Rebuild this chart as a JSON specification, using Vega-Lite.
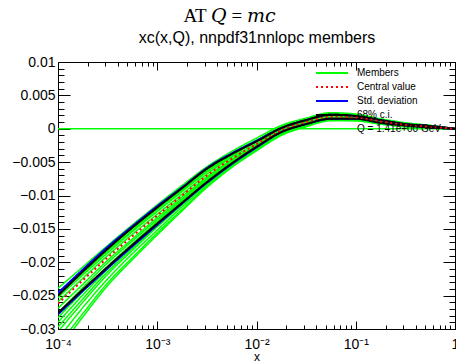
{
  "$schema": "https://vega.github.io/schema/vega-lite/v6.json",
  "width": 397,
  "height": 267,
  "autosize": {"type": "none"},
  "padding": {"left": 58, "top": 62, "right": 1, "bottom": 33},
  "background": "white",
  "title": {
    "text": "AT 𝑄 = 𝑚𝑐",
    "anchor": "middle",
    "frame": "group",
    "dx": -27,
    "font": "Liberation Serif, DejaVu Serif",
    "fontSize": 19,
    "fontWeight": "normal",
    "color": "black",
    "offset": 3
  },
  "config": {
    "font": "Liberation Sans",
    "view": {"stroke": "black", "strokeWidth": 1},
    "axis": {"domain": false, "grid": false, "tickColor": "black", "labelColor": "black", "titleColor": "black", "labelFont": "Liberation Sans", "labelFontSize": 14, "labelFlush": false, "labelOverlap": false, "labelBound": false},
    "legend": {"orient": "none", "legendX": 257, "legendY": 4, "padding": 0, "symbolType": "stroke", "symbolSize": 1024, "symbolStrokeWidth": 2, "clipHeight": 14, "rowPadding": 0, "labelFont": "Liberation Sans", "labelFontSize": 10, "labelColor": "black", "labelOffset": 8, "labelLimit": 200}
  },
  "data": {"values": [
    {"s":"Members","m":"1","x":0.0001,"y":-0.0239},{"s":"Members","m":"1","x":0.00017783,"y":-0.0207},{"s":"Members","m":"1","x":0.00031623,"y":-0.0175},{"s":"Members","m":"1","x":0.00056234,"y":-0.0144},{"s":"Members","m":"1","x":0.001,"y":-0.0114},{"s":"Members","m":"1","x":0.0017783,"y":-0.0085},{"s":"Members","m":"1","x":0.0031623,"y":-0.0057},{"s":"Members","m":"1","x":0.0056234,"y":-0.0034},{"s":"Members","m":"1","x":0.01,"y":-0.0014},{"s":"Members","m":"1","x":0.017783,"y":0.0005},{"s":"Members","m":"1","x":0.031623,"y":0.0016},{"s":"Members","m":"1","x":0.056234,"y":0.0024},{"s":"Members","m":"1","x":0.1,"y":0.0022},{"s":"Members","m":"1","x":0.17783,"y":0.0015},{"s":"Members","m":"1","x":0.31623,"y":0.0009},{"s":"Members","m":"1","x":0.56234,"y":0.0005},{"s":"Members","m":"1","x":1,"y":0},
    {"s":"Members","m":"2","x":0.0001,"y":-0.0246},{"s":"Members","m":"2","x":0.00017783,"y":-0.0213},{"s":"Members","m":"2","x":0.00031623,"y":-0.018},{"s":"Members","m":"2","x":0.00056234,"y":-0.0149},{"s":"Members","m":"2","x":0.001,"y":-0.0119},{"s":"Members","m":"2","x":0.0017783,"y":-0.0089},{"s":"Members","m":"2","x":0.0031623,"y":-0.0061},{"s":"Members","m":"2","x":0.0056234,"y":-0.0037},{"s":"Members","m":"2","x":0.01,"y":-0.0017},{"s":"Members","m":"2","x":0.017783,"y":0.0003},{"s":"Members","m":"2","x":0.031623,"y":0.0014},{"s":"Members","m":"2","x":0.056234,"y":0.0022},{"s":"Members","m":"2","x":0.1,"y":0.0021},{"s":"Members","m":"2","x":0.17783,"y":0.0014},{"s":"Members","m":"2","x":0.31623,"y":0.0008},{"s":"Members","m":"2","x":0.56234,"y":0.0004},{"s":"Members","m":"2","x":1,"y":0},
    {"s":"Members","m":"3","x":0.0001,"y":-0.0253},{"s":"Members","m":"3","x":0.00017783,"y":-0.0219},{"s":"Members","m":"3","x":0.00031623,"y":-0.0186},{"s":"Members","m":"3","x":0.00056234,"y":-0.0154},{"s":"Members","m":"3","x":0.001,"y":-0.0124},{"s":"Members","m":"3","x":0.0017783,"y":-0.0094},{"s":"Members","m":"3","x":0.0031623,"y":-0.0065},{"s":"Members","m":"3","x":0.0056234,"y":-0.0041},{"s":"Members","m":"3","x":0.01,"y":-0.0019},{"s":"Members","m":"3","x":0.017783,"y":-0.0002},{"s":"Members","m":"3","x":0.031623,"y":0.0006},{"s":"Members","m":"3","x":0.056234,"y":0.0015},{"s":"Members","m":"3","x":0.1,"y":0.0014},{"s":"Members","m":"3","x":0.17783,"y":0.0009},{"s":"Members","m":"3","x":0.31623,"y":0.0004},{"s":"Members","m":"3","x":0.56234,"y":0.0002},{"s":"Members","m":"3","x":1,"y":0},
    {"s":"Members","m":"4","x":0.0001,"y":-0.0259},{"s":"Members","m":"4","x":0.00017783,"y":-0.0224},{"s":"Members","m":"4","x":0.00031623,"y":-0.019},{"s":"Members","m":"4","x":0.00056234,"y":-0.0158},{"s":"Members","m":"4","x":0.001,"y":-0.0128},{"s":"Members","m":"4","x":0.0017783,"y":-0.0098},{"s":"Members","m":"4","x":0.0031623,"y":-0.0068},{"s":"Members","m":"4","x":0.0056234,"y":-0.0043},{"s":"Members","m":"4","x":0.01,"y":-0.0022},{"s":"Members","m":"4","x":0.017783,"y":-0.0001},{"s":"Members","m":"4","x":0.031623,"y":0.0011},{"s":"Members","m":"4","x":0.056234,"y":0.0019},{"s":"Members","m":"4","x":0.1,"y":0.0018},{"s":"Members","m":"4","x":0.17783,"y":0.0012},{"s":"Members","m":"4","x":0.31623,"y":0.0006},{"s":"Members","m":"4","x":0.56234,"y":0.0003},{"s":"Members","m":"4","x":1,"y":0},
    {"s":"Members","m":"5","x":0.0001,"y":-0.0269},{"s":"Members","m":"5","x":0.00017783,"y":-0.0233},{"s":"Members","m":"5","x":0.00031623,"y":-0.0197},{"s":"Members","m":"5","x":0.00056234,"y":-0.0165},{"s":"Members","m":"5","x":0.001,"y":-0.0133},{"s":"Members","m":"5","x":0.0017783,"y":-0.0102},{"s":"Members","m":"5","x":0.0031623,"y":-0.0072},{"s":"Members","m":"5","x":0.0056234,"y":-0.0046},{"s":"Members","m":"5","x":0.01,"y":-0.0024},{"s":"Members","m":"5","x":0.017783,"y":0},{"s":"Members","m":"5","x":0.031623,"y":0.0015},{"s":"Members","m":"5","x":0.056234,"y":0.0023},{"s":"Members","m":"5","x":0.1,"y":0.0021},{"s":"Members","m":"5","x":0.17783,"y":0.0014},{"s":"Members","m":"5","x":0.31623,"y":0.0008},{"s":"Members","m":"5","x":0.56234,"y":0.0005},{"s":"Members","m":"5","x":1,"y":0},
    {"s":"Members","m":"6","x":0.0001,"y":-0.0276},{"s":"Members","m":"6","x":0.00017783,"y":-0.0238},{"s":"Members","m":"6","x":0.00031623,"y":-0.0201},{"s":"Members","m":"6","x":0.00056234,"y":-0.0168},{"s":"Members","m":"6","x":0.001,"y":-0.0136},{"s":"Members","m":"6","x":0.0017783,"y":-0.0105},{"s":"Members","m":"6","x":0.0031623,"y":-0.0074},{"s":"Members","m":"6","x":0.0056234,"y":-0.0048},{"s":"Members","m":"6","x":0.01,"y":-0.0025},{"s":"Members","m":"6","x":0.017783,"y":-0.0004},{"s":"Members","m":"6","x":0.031623,"y":0.0009},{"s":"Members","m":"6","x":0.056234,"y":0.0017},{"s":"Members","m":"6","x":0.1,"y":0.0016},{"s":"Members","m":"6","x":0.17783,"y":0.001},{"s":"Members","m":"6","x":0.31623,"y":0.0005},{"s":"Members","m":"6","x":0.56234,"y":0.0003},{"s":"Members","m":"6","x":1,"y":0},
    {"s":"Members","m":"7","x":0.0001,"y":-0.0283},{"s":"Members","m":"7","x":0.00017783,"y":-0.0244},{"s":"Members","m":"7","x":0.00031623,"y":-0.0206},{"s":"Members","m":"7","x":0.00056234,"y":-0.0172},{"s":"Members","m":"7","x":0.001,"y":-0.0139},{"s":"Members","m":"7","x":0.0017783,"y":-0.0107},{"s":"Members","m":"7","x":0.0031623,"y":-0.0075},{"s":"Members","m":"7","x":0.0056234,"y":-0.0049},{"s":"Members","m":"7","x":0.01,"y":-0.0026},{"s":"Members","m":"7","x":0.017783,"y":-0.0004},{"s":"Members","m":"7","x":0.031623,"y":0.001},{"s":"Members","m":"7","x":0.056234,"y":0.0021},{"s":"Members","m":"7","x":0.1,"y":0.002},{"s":"Members","m":"7","x":0.17783,"y":0.0013},{"s":"Members","m":"7","x":0.31623,"y":0.0008},{"s":"Members","m":"7","x":0.56234,"y":0.0004},{"s":"Members","m":"7","x":1,"y":0},
    {"s":"Members","m":"8","x":0.0001,"y":-0.029},{"s":"Members","m":"8","x":0.00017783,"y":-0.0249},{"s":"Members","m":"8","x":0.00031623,"y":-0.021},{"s":"Members","m":"8","x":0.00056234,"y":-0.0175},{"s":"Members","m":"8","x":0.001,"y":-0.0142},{"s":"Members","m":"8","x":0.0017783,"y":-0.0109},{"s":"Members","m":"8","x":0.0031623,"y":-0.0077},{"s":"Members","m":"8","x":0.0056234,"y":-0.005},{"s":"Members","m":"8","x":0.01,"y":-0.0027},{"s":"Members","m":"8","x":0.017783,"y":-0.0005},{"s":"Members","m":"8","x":0.031623,"y":0.0007},{"s":"Members","m":"8","x":0.056234,"y":0.0016},{"s":"Members","m":"8","x":0.1,"y":0.0015},{"s":"Members","m":"8","x":0.17783,"y":0.0009},{"s":"Members","m":"8","x":0.31623,"y":0.0005},{"s":"Members","m":"8","x":0.56234,"y":0.0002},{"s":"Members","m":"8","x":1,"y":0},
    {"s":"Members","m":"9","x":0.0001,"y":-0.0297},{"s":"Members","m":"9","x":0.00017783,"y":-0.0255},{"s":"Members","m":"9","x":0.00031623,"y":-0.0214},{"s":"Members","m":"9","x":0.00056234,"y":-0.0179},{"s":"Members","m":"9","x":0.001,"y":-0.0145},{"s":"Members","m":"9","x":0.0017783,"y":-0.0112},{"s":"Members","m":"9","x":0.0031623,"y":-0.0079},{"s":"Members","m":"9","x":0.0056234,"y":-0.0052},{"s":"Members","m":"9","x":0.01,"y":-0.0028},{"s":"Members","m":"9","x":0.017783,"y":-0.0006},{"s":"Members","m":"9","x":0.031623,"y":0.0006},{"s":"Members","m":"9","x":0.056234,"y":0.0015},{"s":"Members","m":"9","x":0.1,"y":0.0014},{"s":"Members","m":"9","x":0.17783,"y":0.0009},{"s":"Members","m":"9","x":0.31623,"y":0.0004},{"s":"Members","m":"9","x":0.56234,"y":0.0002},{"s":"Members","m":"9","x":1,"y":0},
    {"s":"Members","m":"10","x":0.0001,"y":-0.0304},{"s":"Members","m":"10","x":0.00017783,"y":-0.026},{"s":"Members","m":"10","x":0.00031623,"y":-0.0218},{"s":"Members","m":"10","x":0.00056234,"y":-0.0182},{"s":"Members","m":"10","x":0.001,"y":-0.0147},{"s":"Members","m":"10","x":0.0017783,"y":-0.0114},{"s":"Members","m":"10","x":0.0031623,"y":-0.0081},{"s":"Members","m":"10","x":0.0056234,"y":-0.0053},{"s":"Members","m":"10","x":0.01,"y":-0.0029},{"s":"Members","m":"10","x":0.017783,"y":-0.0007},{"s":"Members","m":"10","x":0.031623,"y":0.0006},{"s":"Members","m":"10","x":0.056234,"y":0.0014},{"s":"Members","m":"10","x":0.1,"y":0.0014},{"s":"Members","m":"10","x":0.17783,"y":0.0009},{"s":"Members","m":"10","x":0.31623,"y":0.0004},{"s":"Members","m":"10","x":0.56234,"y":0.0002},{"s":"Members","m":"10","x":1,"y":0},
    {"s":"Members","m":"11","x":0.0001,"y":-0.0315},{"s":"Members","m":"11","x":0.00017783,"y":-0.0268},{"s":"Members","m":"11","x":0.00031623,"y":-0.0225},{"s":"Members","m":"11","x":0.00056234,"y":-0.0187},{"s":"Members","m":"11","x":0.001,"y":-0.0152},{"s":"Members","m":"11","x":0.0017783,"y":-0.0117},{"s":"Members","m":"11","x":0.0031623,"y":-0.0084},{"s":"Members","m":"11","x":0.0056234,"y":-0.0055},{"s":"Members","m":"11","x":0.01,"y":-0.0031},{"s":"Members","m":"11","x":0.017783,"y":-0.0008},{"s":"Members","m":"11","x":0.031623,"y":0.0005},{"s":"Members","m":"11","x":0.056234,"y":0.0013},{"s":"Members","m":"11","x":0.1,"y":0.0013},{"s":"Members","m":"11","x":0.17783,"y":0.0008},{"s":"Members","m":"11","x":0.31623,"y":0.0004},{"s":"Members","m":"11","x":0.56234,"y":0.0001},{"s":"Members","m":"11","x":1,"y":0},
    {"s":"Members","m":"12","x":0.0001,"y":-0.0325},{"s":"Members","m":"12","x":0.00017783,"y":-0.0277},{"s":"Members","m":"12","x":0.00031623,"y":-0.0231},{"s":"Members","m":"12","x":0.00056234,"y":-0.0193},{"s":"Members","m":"12","x":0.001,"y":-0.0156},{"s":"Members","m":"12","x":0.0017783,"y":-0.0121},{"s":"Members","m":"12","x":0.0031623,"y":-0.0086},{"s":"Members","m":"12","x":0.0056234,"y":-0.0057},{"s":"Members","m":"12","x":0.01,"y":-0.0032},{"s":"Members","m":"12","x":0.017783,"y":-0.0009},{"s":"Members","m":"12","x":0.031623,"y":0.0004},{"s":"Members","m":"12","x":0.056234,"y":0.0013},{"s":"Members","m":"12","x":0.1,"y":0.0012},{"s":"Members","m":"12","x":0.17783,"y":0.0007},{"s":"Members","m":"12","x":0.31623,"y":0.0003},{"s":"Members","m":"12","x":0.56234,"y":0.0001},{"s":"Members","m":"12","x":1,"y":0},
    {"s":"Members","m":"13","x":0.0001,"y":-0.0332},{"s":"Members","m":"13","x":0.00017783,"y":-0.0282},{"s":"Members","m":"13","x":0.00031623,"y":-0.0235},{"s":"Members","m":"13","x":0.00056234,"y":-0.0196},{"s":"Members","m":"13","x":0.001,"y":-0.0159},{"s":"Members","m":"13","x":0.0017783,"y":-0.0123},{"s":"Members","m":"13","x":0.0031623,"y":-0.0088},{"s":"Members","m":"13","x":0.0056234,"y":-0.0058},{"s":"Members","m":"13","x":0.01,"y":-0.0033},{"s":"Members","m":"13","x":0.017783,"y":-0.001},{"s":"Members","m":"13","x":0.031623,"y":0.0003},{"s":"Members","m":"13","x":0.056234,"y":0.0012},{"s":"Members","m":"13","x":0.1,"y":0.0012},{"s":"Members","m":"13","x":0.17783,"y":0.0007},{"s":"Members","m":"13","x":0.31623,"y":0.0003},{"s":"Members","m":"13","x":0.56234,"y":0.0001},{"s":"Members","m":"13","x":1,"y":0},
    {"s":"Members","m":"14","x":0.0001,"y":-0.0249},{"s":"Members","m":"14","x":0.00017783,"y":-0.0216},{"s":"Members","m":"14","x":0.00031623,"y":-0.0183},{"s":"Members","m":"14","x":0.00056234,"y":-0.0152},{"s":"Members","m":"14","x":0.001,"y":-0.0121},{"s":"Members","m":"14","x":0.0017783,"y":-0.0092},{"s":"Members","m":"14","x":0.0031623,"y":-0.0063},{"s":"Members","m":"14","x":0.0056234,"y":-0.0039},{"s":"Members","m":"14","x":0.01,"y":-0.0018},{"s":"Members","m":"14","x":0.017783,"y":0.0002},{"s":"Members","m":"14","x":0.031623,"y":0.0008},{"s":"Members","m":"14","x":0.056234,"y":0.0016},{"s":"Members","m":"14","x":0.1,"y":0.0015},{"s":"Members","m":"14","x":0.17783,"y":0.001},{"s":"Members","m":"14","x":0.31623,"y":0.0005},{"s":"Members","m":"14","x":0.56234,"y":0.0002},{"s":"Members","m":"14","x":1,"y":0},
    {"s":"Std. deviation","m":"u","x":0.0001,"y":-0.0246},{"s":"Std. deviation","m":"u","x":0.00017783,"y":-0.0211},{"s":"Std. deviation","m":"u","x":0.00031623,"y":-0.0177},{"s":"Std. deviation","m":"u","x":0.00056234,"y":-0.0146},{"s":"Std. deviation","m":"u","x":0.001,"y":-0.0116},{"s":"Std. deviation","m":"u","x":0.0017783,"y":-0.0088},{"s":"Std. deviation","m":"u","x":0.0031623,"y":-0.0059},{"s":"Std. deviation","m":"u","x":0.0056234,"y":-0.0037},{"s":"Std. deviation","m":"u","x":0.01,"y":-0.0018},{"s":"Std. deviation","m":"u","x":0.017783,"y":0.0001},{"s":"Std. deviation","m":"u","x":0.031623,"y":0.0013},{"s":"Std. deviation","m":"u","x":0.056234,"y":0.0021},{"s":"Std. deviation","m":"u","x":0.1,"y":0.0019},{"s":"Std. deviation","m":"u","x":0.17783,"y":0.0013},{"s":"Std. deviation","m":"u","x":0.31623,"y":0.0007},{"s":"Std. deviation","m":"u","x":0.56234,"y":0.0004},{"s":"Std. deviation","m":"u","x":1,"y":0},
    {"s":"Std. deviation","m":"l","x":0.0001,"y":-0.0278},{"s":"Std. deviation","m":"l","x":0.00017783,"y":-0.0243},{"s":"Std. deviation","m":"l","x":0.00031623,"y":-0.0209},{"s":"Std. deviation","m":"l","x":0.00056234,"y":-0.0176},{"s":"Std. deviation","m":"l","x":0.001,"y":-0.0144},{"s":"Std. deviation","m":"l","x":0.0017783,"y":-0.0112},{"s":"Std. deviation","m":"l","x":0.0031623,"y":-0.0081},{"s":"Std. deviation","m":"l","x":0.0056234,"y":-0.0053},{"s":"Std. deviation","m":"l","x":0.01,"y":-0.0028},{"s":"Std. deviation","m":"l","x":0.017783,"y":-0.0005},{"s":"Std. deviation","m":"l","x":0.031623,"y":0.0007},{"s":"Std. deviation","m":"l","x":0.056234,"y":0.0015},{"s":"Std. deviation","m":"l","x":0.1,"y":0.0015},{"s":"Std. deviation","m":"l","x":0.17783,"y":0.0009},{"s":"Std. deviation","m":"l","x":0.31623,"y":0.0005},{"s":"Std. deviation","m":"l","x":0.56234,"y":0.0002},{"s":"Std. deviation","m":"l","x":1,"y":0},
    {"s":"68% c.i.","m":"u","x":0.0001,"y":-0.025},{"s":"68% c.i.","m":"u","x":0.00017783,"y":-0.0214},{"s":"68% c.i.","m":"u","x":0.00031623,"y":-0.018},{"s":"68% c.i.","m":"u","x":0.00056234,"y":-0.0148},{"s":"68% c.i.","m":"u","x":0.001,"y":-0.0118},{"s":"68% c.i.","m":"u","x":0.0017783,"y":-0.0089},{"s":"68% c.i.","m":"u","x":0.0031623,"y":-0.006},{"s":"68% c.i.","m":"u","x":0.0056234,"y":-0.0038},{"s":"68% c.i.","m":"u","x":0.01,"y":-0.0019},{"s":"68% c.i.","m":"u","x":0.017783,"y":0.0001},{"s":"68% c.i.","m":"u","x":0.031623,"y":0.0013},{"s":"68% c.i.","m":"u","x":0.056234,"y":0.0021},{"s":"68% c.i.","m":"u","x":0.1,"y":0.0019},{"s":"68% c.i.","m":"u","x":0.17783,"y":0.0013},{"s":"68% c.i.","m":"u","x":0.31623,"y":0.0007},{"s":"68% c.i.","m":"u","x":0.56234,"y":0.0004},{"s":"68% c.i.","m":"u","x":1,"y":0},
    {"s":"68% c.i.","m":"l","x":0.0001,"y":-0.0276},{"s":"68% c.i.","m":"l","x":0.00017783,"y":-0.0241},{"s":"68% c.i.","m":"l","x":0.00031623,"y":-0.0207},{"s":"68% c.i.","m":"l","x":0.00056234,"y":-0.0174},{"s":"68% c.i.","m":"l","x":0.001,"y":-0.0142},{"s":"68% c.i.","m":"l","x":0.0017783,"y":-0.0111},{"s":"68% c.i.","m":"l","x":0.0031623,"y":-0.008},{"s":"68% c.i.","m":"l","x":0.0056234,"y":-0.0052},{"s":"68% c.i.","m":"l","x":0.01,"y":-0.0027},{"s":"68% c.i.","m":"l","x":0.017783,"y":-0.0005},{"s":"68% c.i.","m":"l","x":0.031623,"y":0.0007},{"s":"68% c.i.","m":"l","x":0.056234,"y":0.0015},{"s":"68% c.i.","m":"l","x":0.1,"y":0.0015},{"s":"68% c.i.","m":"l","x":0.17783,"y":0.0009},{"s":"68% c.i.","m":"l","x":0.31623,"y":0.0005},{"s":"68% c.i.","m":"l","x":0.56234,"y":0.0002},{"s":"68% c.i.","m":"l","x":1,"y":0},
    {"s":"Central value","m":"c","x":0.0001,"y":-0.0262},{"s":"Central value","m":"c","x":0.00017783,"y":-0.0227},{"s":"Central value","m":"c","x":0.00031623,"y":-0.0193},{"s":"Central value","m":"c","x":0.00056234,"y":-0.0161},{"s":"Central value","m":"c","x":0.001,"y":-0.013},{"s":"Central value","m":"c","x":0.0017783,"y":-0.01},{"s":"Central value","m":"c","x":0.0031623,"y":-0.007},{"s":"Central value","m":"c","x":0.0056234,"y":-0.0045},{"s":"Central value","m":"c","x":0.01,"y":-0.0023},{"s":"Central value","m":"c","x":0.017783,"y":-0.0002},{"s":"Central value","m":"c","x":0.031623,"y":0.001},{"s":"Central value","m":"c","x":0.056234,"y":0.0018},{"s":"Central value","m":"c","x":0.1,"y":0.0017},{"s":"Central value","m":"c","x":0.17783,"y":0.0011},{"s":"Central value","m":"c","x":0.31623,"y":0.0006},{"s":"Central value","m":"c","x":0.56234,"y":0.0003},{"s":"Central value","m":"c","x":1,"y":0}
  ]},
  "resolve": {"axis": {"x": "independent", "y": "independent"}},
  "layer": [
    {
      "data": {"values": [{}]},
      "mark": {"type": "rule", "color": "#00ff00", "strokeWidth": 1.5},
      "encoding": {"y": {"datum": 0, "type": "quantitative", "axis": null}}
    },
    {
      "transform": [{"filter": "datum.s == 'Members'"}],
      "mark": {"type": "line", "strokeWidth": 1.5, "clip": true, "interpolate": "monotone"},
      "encoding": {
        "x": {"field": "x", "type": "quantitative", "scale": {"type": "log", "domain": [0.0001, 1], "nice": false},
          "axis": {"orient": "bottom", "values": [0.0001, 0.001, 0.01, 0.1, 1], "tickSize": -8, "labelPadding": 16,
            "labelExpr": "datum.value > 0.5 ? '1' : datum.value < 0.0002 ? '10⁻⁴' : datum.value < 0.002 ? '10⁻³' : datum.value < 0.02 ? '10⁻²' : '10⁻¹'",
            "title": "x", "titleFontSize": 12, "titleFontWeight": "normal", "titlePadding": 0, "titleFont": "Liberation Sans"}},
        "y": {"field": "y", "type": "quantitative", "scale": {"domain": [-0.03, 0.01], "nice": false, "zero": false},
          "axis": {"orient": "left", "values": [-0.03, -0.025, -0.02, -0.015, -0.01, -0.005, 0, 0.005, 0.01], "tickSize": -12, "labelPadding": 15, "format": ".3~f", "title": null}},
        "detail": {"field": "m"},
        "color": {"field": "s", "type": "nominal",
          "scale": {"domain": ["Members", "Central value", "Std. deviation", "68% c.i.", "Q = 1.41e+00 GeV"], "range": ["#00ff00", "#ff0000", "#0000ff", "#000000", "rgba(0,0,0,0)"]},
          "legend": {"title": null}},
        "strokeDash": {"field": "s", "type": "nominal",
          "scale": {"domain": ["Members", "Central value", "Std. deviation", "68% c.i.", "Q = 1.41e+00 GeV"], "range": [[1, 0], [2, 3], [1, 0], [1, 0], [1, 0]]},
          "legend": {"title": null}}
      }
    },
    {
      "transform": [{"filter": "datum.s == 'Std. deviation'"}],
      "mark": {"type": "line", "strokeWidth": 2, "clip": true, "interpolate": "monotone"},
      "encoding": {
        "x": {"field": "x", "type": "quantitative", "axis": {"orient": "top", "values": [0.0001, 0.001, 0.01, 0.1, 1], "tickSize": -8, "labels": false,
          "title": "xc(x,Q), nnpdf31nnlopc members", "titleFont": "Liberation Sans", "titleFontSize": 16, "titleFontWeight": "normal", "titleBaseline": "alphabetic", "titleY": -20}},
        "y": {"field": "y", "type": "quantitative", "axis": {"orient": "right", "values": [-0.03, -0.025, -0.02, -0.015, -0.01, -0.005, 0, 0.005, 0.01], "tickSize": -12, "labels": false, "title": null}},
        "detail": {"field": "m"},
        "color": {"field": "s", "type": "nominal"},
        "strokeDash": {"field": "s", "type": "nominal"}
      }
    },
    {
      "transform": [{"filter": "datum.s == '68% c.i.'"}],
      "mark": {"type": "line", "strokeWidth": 2, "clip": true, "interpolate": "monotone"},
      "encoding": {
        "x": {"field": "x", "type": "quantitative", "axis": {"orient": "bottom", "values": [0.0002, 0.0003, 0.0004, 0.0005, 0.0006, 0.0007, 0.0008, 0.0009, 0.002, 0.003, 0.004, 0.005, 0.006, 0.007, 0.008, 0.009, 0.02, 0.03, 0.04, 0.05, 0.06, 0.07, 0.08, 0.09, 0.2, 0.3, 0.4, 0.5, 0.6, 0.7, 0.8, 0.9], "tickSize": -4, "labels": false, "title": null}},
        "y": {"field": "y", "type": "quantitative", "axis": {"orient": "left", "values": [-0.029, -0.028, -0.027, -0.026, -0.024, -0.023, -0.022, -0.021, -0.019, -0.018, -0.017, -0.016, -0.014, -0.013, -0.012, -0.011, -0.009, -0.008, -0.007, -0.006, -0.004, -0.003, -0.002, -0.001, 0.001, 0.002, 0.003, 0.004, 0.006, 0.007, 0.008, 0.009], "tickSize": -6, "labels": false, "title": null}},
        "detail": {"field": "m"},
        "color": {"field": "s", "type": "nominal"},
        "strokeDash": {"field": "s", "type": "nominal"}
      }
    },
    {
      "transform": [{"filter": "datum.s == 'Central value'"}],
      "mark": {"type": "line", "strokeWidth": 2, "clip": true, "interpolate": "monotone"},
      "encoding": {
        "x": {"field": "x", "type": "quantitative", "axis": {"orient": "top", "values": [0.0002, 0.0003, 0.0004, 0.0005, 0.0006, 0.0007, 0.0008, 0.0009, 0.002, 0.003, 0.004, 0.005, 0.006, 0.007, 0.008, 0.009, 0.02, 0.03, 0.04, 0.05, 0.06, 0.07, 0.08, 0.09, 0.2, 0.3, 0.4, 0.5, 0.6, 0.7, 0.8, 0.9], "tickSize": -4, "labels": false, "title": null}},
        "y": {"field": "y", "type": "quantitative", "axis": {"orient": "right", "values": [-0.029, -0.028, -0.027, -0.026, -0.024, -0.023, -0.022, -0.021, -0.019, -0.018, -0.017, -0.016, -0.014, -0.013, -0.012, -0.011, -0.009, -0.008, -0.007, -0.006, -0.004, -0.003, -0.002, -0.001, 0.001, 0.002, 0.003, 0.004, 0.006, 0.007, 0.008, 0.009], "tickSize": -6, "labels": false, "title": null}},
        "color": {"field": "s", "type": "nominal"},
        "strokeDash": {"field": "s", "type": "nominal"}
      }
    }
  ]
}
